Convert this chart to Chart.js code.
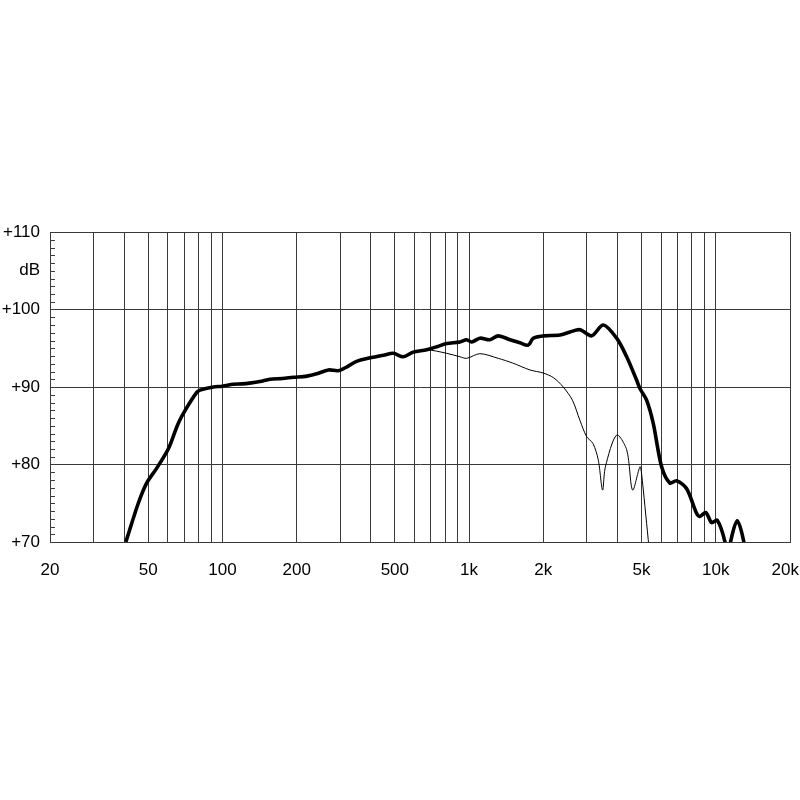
<!DOCTYPE html>
<html>
<head>
<meta charset="utf-8">
<script src="https://cdn.jsdelivr.net/npm/chart.js@4"></script>
<style>
  html, body { margin: 0; padding: 0; background: #fff; }
  #wrap { width: 800px; height: 800px; }
</style>
</head>
<body>
<div id="wrap"><canvas id="response"></canvas></div>
<script>
// frequency response, on-axis (thick) and off-axis (thin)
const freqOnAxis = [40.6, 45.6, 49.3, 54.1, 59.4, 61.3, 66.2, 71.6, 78.7, 81.1, 91.8, 100, 110.7, 120, 129, 142, 156, 175, 194, 220, 241, 269, 295, 320, 350, 402, 450, 493, 541, 594, 673, 740, 811, 918, 978, 1024, 1106, 1215, 1312, 1466, 1608, 1738, 1820, 2000, 2334, 2564, 2814, 3140, 3500, 3964, 4354, 4776, 4928, 5245, 5580, 6034, 6520, 6935, 7614, 8360, 8620, 9120, 9620, 10140, 10900, 11200, 11480, 12220, 13000, 13300];
const splOnAxis  = [70, 75, 77.6, 79.5, 81.6, 82.5, 85.3, 87.3, 89.3, 89.6, 90.0, 90.1, 90.35, 90.4, 90.5, 90.7, 91.0, 91.1, 91.25, 91.4, 91.7, 92.2, 92.1, 92.6, 93.3, 93.8, 94.1, 94.35, 93.9, 94.5, 94.8, 95.2, 95.6, 95.8, 96.1, 95.8, 96.3, 96.1, 96.6, 96.1, 95.7, 95.4, 96.3, 96.6, 96.7, 97.1, 97.4, 96.6, 98.0, 96.3, 93.9, 90.9, 89.8, 88.3, 85.3, 79.7, 77.6, 77.9, 76.9, 73.7, 73.3, 73.8, 72.5, 72.8, 70, 67, 70, 72.75, 70, 67];

const freqOffAxis = [594, 673, 811, 918, 978, 1106, 1312, 1500, 1765, 2000, 2200, 2408, 2624, 2814, 2996, 3180, 3340, 3476, 3570, 3964, 4354, 4600, 4928, 5000, 5325, 5500];
const splOffAxis  = [94.5, 94.8, 94.35, 93.9, 93.7, 94.3, 93.7, 93.1, 92.2, 91.8, 91.2, 90.0, 88.3, 85.7, 83.6, 82.7, 80.6, 76.7, 79.7, 83.8, 81.9, 76.7, 79.7, 78.9, 70.3, 66];

const freqGrid = [20, 30, 40, 50, 60, 70, 80, 90, 100, 200, 300, 400, 500, 600, 700, 800, 900, 1000, 2000, 3000, 4000, 5000, 6000, 7000, 8000, 9000, 10000, 20000];
const freqLabels = { 20: '20', 50: '50', 100: '100', 200: '200', 500: '500', 1000: '1k', 2000: '2k', 5000: '5k', 10000: '10k', 20000: '20k  ' };
const splTicks = [70, 80, 90, 100, 105, 110];
const unitTick = 105;

const gridColor = '#3a3a3a';

const minorTicksPlugin = {
    id: 'minorTicks',
    afterDatasetsDraw(chart) {
        const { ctx, scales, chartArea } = chart;
        const y = scales.y;
        ctx.save();
        ctx.strokeStyle = gridColor;
        ctx.lineWidth = 1;
        ctx.beginPath();
        for (let v = 71; v < 110; v++) {
            if (v % 10 === 0) continue;
            const py = Math.round(y.getPixelForValue(v)) + 0.5;
            ctx.moveTo(chartArea.left, py);
            ctx.lineTo(chartArea.left + 5, py);
        }
        ctx.stroke();
        ctx.restore();
    }
};

const toPoints = (xs, ys) => xs.map((f, i) => ({ x: f, y: ys[i] }));

new Chart(document.getElementById('response').getContext('2d'), {
    type: 'line',
    data: {
        datasets: [
            {
                label: 'off axis',
                data: toPoints(freqOffAxis, splOffAxis),
                borderColor: '#000',
                borderWidth: 1,
                pointRadius: 0,
                tension: 0.3,
            },
            {
                label: 'on axis',
                data: toPoints(freqOnAxis, splOnAxis),
                borderColor: '#000',
                borderWidth: 3.6,
                pointRadius: 0,
                tension: 0.3,
            }
        ]
    },
    options: {
        responsive: true,
        maintainAspectRatio: false,
        animation: false,
        layout: {
            padding: { top: 232, right: 10, left: 0, bottom: 0 }
        },
        plugins: {
            legend: { display: false },
            tooltip: { enabled: false },
        },
        scales: {
            x: {
                type: 'logarithmic',
                min: 20,
                max: 20000,
                afterBuildTicks(scale) {
                    scale.ticks = freqGrid.map(v => ({ value: v }));
                },
                afterFit(scale) {
                    scale.height = 258;
                    scale.paddingLeft = 0;
                    scale.paddingRight = 0;
                },
                grid: {
                    color: gridColor,
                    lineWidth: 1,
                    drawTicks: false,
                },
                border: { color: gridColor, width: 1 },
                ticks: {
                    autoSkip: false,
                    maxRotation: 0,
                    padding: 18,
                    color: '#000',
                    font: { family: 'Liberation Sans, Arial, sans-serif', size: 17 },
                    callback: v => freqLabels[v] || '',
                },
            },
            y: {
                min: 70,
                max: 110,
                afterBuildTicks(scale) {
                    scale.ticks = splTicks.map(v => ({ value: v }));
                },
                afterFit(scale) {
                    scale.width = 50;
                    scale.paddingTop = 0;
                    scale.paddingBottom = 0;
                },
                grid: {
                    color: c => (c.tick && c.tick.value === unitTick) ? 'rgba(0,0,0,0)' : gridColor,
                    lineWidth: 1,
                    drawTicks: false,
                },
                border: { color: gridColor, width: 1 },
                ticks: {
                    autoSkip: false,
                    padding: 10,
                    color: '#000',
                    font: { family: 'Liberation Sans, Arial, sans-serif', size: 17 },
                    callback: v => v === unitTick ? 'dB' : '+' + v,
                },
            }
        }
    },
    plugins: [minorTicksPlugin],
});
</script>
</body>
</html>
